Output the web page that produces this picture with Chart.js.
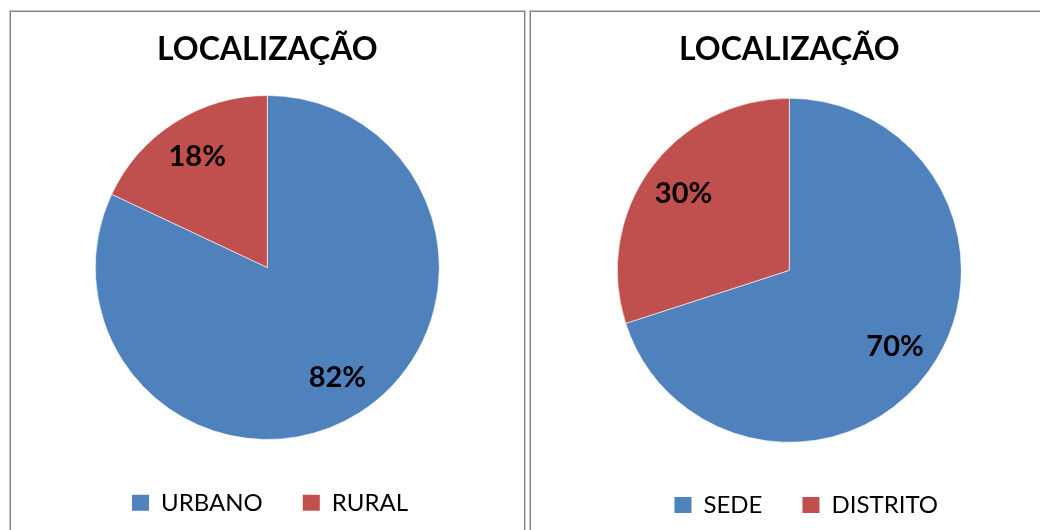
<!DOCTYPE html>
<html lang="pt-BR">
<head>
<meta charset="utf-8">
<title>Localização</title>
<script src="https://cdn.jsdelivr.net/npm/chart.js@4.4.1/dist/chart.umd.min.js"></script>
<style>
  html, body { margin: 0; padding: 0; background: #fff; }
  body { width: 1040px; height: 530px; position: relative; overflow: hidden; }
  .panel {
    position: absolute;
    box-sizing: border-box;
    border: 1px solid #858585;
    box-shadow: 0 0 0 1px #c6c6c6;
  }
  #panel-left { left: 10px; top: 11px; width: 515px; height: 560px; }
  #panel-right { left: 530px; top: 11px; width: 560px; height: 560px; }
  canvas { position: absolute; }
  #chart-left { left: 12px; top: 13px; }
  #chart-right { left: 531px; top: 13px; }
</style>
</head>
<body>
<div class="panel" id="panel-left"></div>
<div class="panel" id="panel-right"></div>
<canvas id="chart-left" width="511" height="517"></canvas>
<canvas id="chart-right" width="510" height="517"></canvas>

<script>
const chartTitle = 'LOCALIZAÇÃO';

// zona urbana x rural
const areaLabels = ['URBANO', 'RURAL'];
const areaValues = [82, 18];

// sede x distrito
const siteLabels = ['SEDE', 'DISTRITO'];
const siteValues = [70, 30];

const sliceColors = ['#4F81BD', '#C0504D'];

// escreve o percentual dentro de cada fatia
const percentLabels = {
  id: 'percentLabels',
  afterDatasetsDraw(chart) {
    const ctx = chart.ctx;
    const values = chart.data.datasets[0].data;
    ctx.save();
    ctx.font = 'bold 29px Lato, "Open Sans", sans-serif';
    ctx.fillStyle = '#000';
    ctx.textAlign = 'center';
    ctx.textBaseline = 'middle';
    chart.getDatasetMeta(0).data.forEach((arc, i) => {
      const { x, y, startAngle, endAngle, outerRadius } = arc.getProps(['x', 'y', 'startAngle', 'endAngle', 'outerRadius'], true);
      const mid = (startAngle + endAngle) / 2;
      const r = outerRadius * 0.76;
      ctx.fillText(values[i] + '%', x + Math.cos(mid) * r, y + Math.sin(mid) * r);
    });
    ctx.restore();
  }
};

function renderPie(canvasId, labels, values, box) {
  const ctx = document.getElementById(canvasId).getContext('2d');
  return new Chart(ctx, {
    type: 'pie',
    data: {
      labels: labels,
      datasets: [{
        data: values,
        backgroundColor: sliceColors,
        borderColor: 'rgba(255, 255, 255, 0.6)',
        borderWidth: 1,
        radius: 172,
        clip: false
      }]
    },
    options: {
      responsive: false,
      animation: false,
      events: [],
      layout: {
        padding: { left: box.left, right: box.right, top: 0, bottom: box.bottom }
      },
      plugins: {
        title: {
          display: true,
          text: chartTitle,
          color: '#000',
          font: { family: 'Lato, "Open Sans", sans-serif', size: 32, weight: 'bold', lineHeight: 1.2 },
          padding: { top: 17.8, bottom: box.titleGap }
        },
        legend: {
          position: 'bottom',
          align: 'end',
          labels: {
            color: '#000',
            font: { family: 'Lato, "Open Sans", sans-serif', size: 24 },
            boxWidth: 17,
            boxHeight: 16,
            padding: 40,
            generateLabels(chart) {
              // quadrado cheio, sem contorno
              return Chart.controllers.pie.overrides.plugins.legend.labels.generateLabels(chart)
                .map(item => Object.assign(item, { lineWidth: 0 }));
            }
          }
        },
        tooltip: { enabled: false }
      }
    },
    plugins: [percentLabels]
  });
}

document.addEventListener('DOMContentLoaded', () => {
  renderPie('chart-left', areaLabels, areaValues, { left: 74.6, right: 75, bottom: 5.2, titleGap: 15 });
  renderPie('chart-right', siteLabels, siteValues, { left: 69.6, right: 63, bottom: 3, titleGap: 18.4 });
});
</script>
</body>
</html>
